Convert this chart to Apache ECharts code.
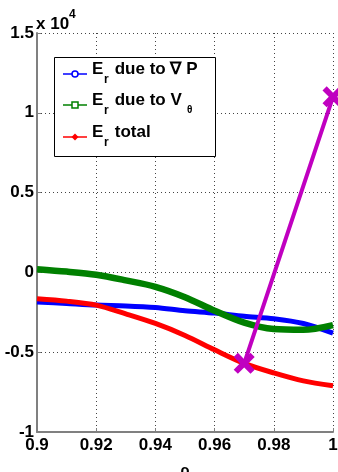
<!DOCTYPE html>
<html><head><meta charset="utf-8">
<script src="https://cdn.jsdelivr.net/npm/echarts@6/dist/echarts.min.js"></script>
<style>html,body{margin:0;padding:0;background:#fff}#c{width:338px;height:472px}</style>
</head><body><div id="c"></div>
<script>
var rho = [0.90,0.91,0.92,0.93,0.94,0.95,0.96,0.97,0.98,0.99,1.00];
var erGradP = [-0.185,-0.195,-0.205,-0.21,-0.22,-0.24,-0.255,-0.275,-0.29,-0.32,-0.38];
var erVtheta = [0.02,0.005,-0.015,-0.05,-0.09,-0.155,-0.24,-0.315,-0.355,-0.36,-0.33];
var erTotal = [-0.165,-0.18,-0.205,-0.26,-0.32,-0.395,-0.485,-0.57,-0.63,-0.68,-0.71];
var markRho = [0.97,1.00];
var markVal = [-0.57,1.10];
var yTicks = [-1,-0.5,0,0.5,1,1.5];
var xTicks = [0.9,0.92,0.94,0.96,0.98,1];

function pairs(x,y){return x.map(function(v,i){return [v,y[i]];});}
var FONT = '"Liberation Sans", Arial, sans-serif';
var xShape = 'path://M0,2 L2,0 L5,3 L8,0 L10,2 L7,5 L10,8 L8,10 L5,7 L2,10 L0,8 L3,5 Z';
var chart = echarts.init(document.getElementById('c'));

function txt(x,y,s,size){return {type:'text',x:x,y:y,z:110,style:{text:s,fontFamily:FONT,fontWeight:'bold',fontSize:size,fill:'#000',textVerticalAlign:'middle'}};}
var legendRows = [{y:74,color:'#0000ff',label:' due to \u2207 P'},{y:105,color:'#008000',label:' due to V'},{y:137,color:'#ff0000',label:' total'}];
var g = [];
g.push({type:'rect',z:100,shape:{x:54.5,y:57.5,width:161,height:99},style:{fill:'#fff',stroke:'#000',lineWidth:1}});
legendRows.forEach(function(r,i){
  g.push({type:'line',z:105,shape:{x1:63,y1:r.y,x2:87,y2:r.y},style:{stroke:r.color,lineWidth:1.5}});
  if(i===0) g.push({type:'circle',z:106,shape:{cx:75,cy:r.y,r:3},style:{fill:'#fff',stroke:r.color,lineWidth:1.5}});
  if(i===1) g.push({type:'rect',z:106,shape:{x:72,y:r.y-3,width:6,height:6},style:{fill:'#fff',stroke:r.color,lineWidth:1.5}});
  if(i===2) g.push({type:'polygon',z:106,shape:{points:[[75,r.y-3.5],[78.5,r.y],[75,r.y+3.5],[71.5,r.y]]},style:{fill:r.color}});
  g.push(txt(92,r.y-5,'E',17));
  g.push(txt(104,r.y+6,'r',12));
  g.push(txt(110,r.y-5,r.label,17));
});
g.push(txt(187,110,'\u03b8',10));
g.push({type:'text',x:36,y:24,z:110,style:{text:'x 10',fontFamily:FONT,fontWeight:'bold',fontSize:17,fill:'#000',textVerticalAlign:'middle'}});
g.push({type:'text',x:69,y:15,z:110,style:{text:'4',fontFamily:FONT,fontWeight:'bold',fontSize:12,fill:'#000',textVerticalAlign:'middle'}});

chart.setOption({
  animation:false,
  grid:{left:37,top:33,width:296,height:399,containLabel:false,outerBoundsMode:'none'},
  xAxis:{type:'value',min:0.9,max:1,interval:0.02,
    name:'\u03c1',nameLocation:'middle',nameGap:31,
    nameTextStyle:{fontFamily:FONT,fontWeight:'bold',fontSize:15,color:'#000'},
    axisLine:{onZero:false,lineStyle:{color:'#808080',width:2}},
    axisTick:{inside:true,length:4,lineStyle:{color:'#808080'}},
    axisLabel:{fontFamily:FONT,fontWeight:'bold',fontSize:17,color:'#000',margin:5,
      formatter:function(v){return xTicks.indexOf(+v.toFixed(2))>=0?String(+v.toFixed(2)):'';}},
    splitLine:{show:true,lineStyle:{type:[1,3],color:'#444',width:1}}},
  yAxis:{type:'value',min:-1,max:1.5,interval:0.5,
    axisLine:{show:true,onZero:false,lineStyle:{color:'#808080',width:2}},
    axisTick:{show:true,inside:true,length:4,lineStyle:{color:'#808080'}},
    axisLabel:{fontFamily:FONT,fontWeight:'bold',fontSize:17,color:'#000',margin:3,
      formatter:function(v){return yTicks.indexOf(+v.toFixed(1))>=0?String(+v.toFixed(1)):'';}},
    splitLine:{show:true,lineStyle:{type:[1,3],color:'#444',width:1}}},
  graphic:g,
  series:[
    {name:'gp',type:'line',smooth:0.3,data:pairs(rho,erGradP),showSymbol:false,
      color:'#0000ff',lineStyle:{width:5,color:'#0000ff'},z:2},
    {name:'vt',type:'line',smooth:0.3,data:pairs(rho,erVtheta),showSymbol:false,
      color:'#008000',lineStyle:{width:6.5,color:'#008000'},z:3},
    {name:'tot',type:'line',smooth:0.3,data:pairs(rho,erTotal),showSymbol:false,
      color:'#ff0000',lineStyle:{width:5,color:'#ff0000'},z:2},
    {name:'mark',type:'line',data:pairs(markRho,markVal),symbol:xShape,symbolSize:21,
      itemStyle:{color:'#c000c0'},lineStyle:{width:4,color:'#c000c0'},z:5}
  ]
});
</script></body></html>
